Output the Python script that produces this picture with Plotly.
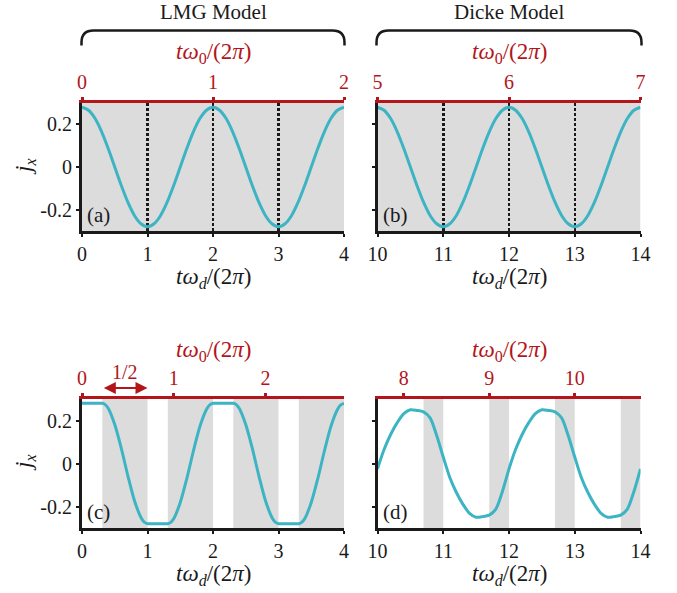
import plotly.graph_objects as go

W, H = 677, 593

# ---------------- data ----------------
x_a = [0.0, 0.1, 0.2, 0.3, 0.4, 0.5, 0.6, 0.7, 0.8, 0.9, 1.0, 1.1, 1.2, 1.3, 1.4, 1.5, 1.6, 1.7, 1.8, 1.9, 2.0,
       2.1, 2.2, 2.3, 2.4, 2.5, 2.6, 2.7, 2.8, 2.9, 3.0, 3.1, 3.2, 3.3, 3.4, 3.5, 3.6, 3.7, 3.8, 3.9, 4.0]
j_a = [0.28, 0.266, 0.227, 0.165, 0.087, 0.0, -0.087, -0.165, -0.227, -0.266, -0.28,
       -0.266, -0.227, -0.165, -0.087, 0.0, 0.087, 0.165, 0.227, 0.266, 0.28,
       0.266, 0.227, 0.165, 0.087, 0.0, -0.087, -0.165, -0.227, -0.266, -0.28,
       -0.266, -0.227, -0.165, -0.087, 0.0, 0.087, 0.165, 0.227, 0.266, 0.28]

x_b = [10.0, 10.1, 10.2, 10.3, 10.4, 10.5, 10.6, 10.7, 10.8, 10.9, 11.0, 11.1, 11.2, 11.3, 11.4, 11.5, 11.6, 11.7,
       11.8, 11.9, 12.0, 12.1, 12.2, 12.3, 12.4, 12.5, 12.6, 12.7, 12.8, 12.9, 13.0, 13.1, 13.2, 13.3, 13.4, 13.5,
       13.6, 13.7, 13.8, 13.9, 14.0]
j_b = [0.28, 0.266, 0.227, 0.165, 0.087, 0.0, -0.087, -0.165, -0.227, -0.266, -0.28,
       -0.266, -0.227, -0.165, -0.087, 0.0, 0.087, 0.165, 0.227, 0.266, 0.28,
       0.266, 0.227, 0.165, 0.087, 0.0, -0.087, -0.165, -0.227, -0.266, -0.28,
       -0.266, -0.227, -0.165, -0.087, 0.0, 0.087, 0.165, 0.227, 0.266, 0.28]

x_c = [0.0, 0.15, 0.31, 0.35, 0.4, 0.5, 0.6, 0.7, 0.8, 0.9, 0.95, 1.0, 1.15,
       1.31, 1.35, 1.4, 1.5, 1.6, 1.7, 1.8, 1.9, 1.95, 2.0, 2.15,
       2.31, 2.35, 2.4, 2.5, 2.6, 2.7, 2.8, 2.9, 2.95, 3.0, 3.15,
       3.31, 3.35, 3.4, 3.5, 3.6, 3.7, 3.8, 3.9, 3.95, 4.0]
j_c = [0.28, 0.28, 0.28, 0.275, 0.257, 0.181, 0.070, -0.057, -0.172, -0.251, -0.273, -0.28, -0.28,
       -0.28, -0.275, -0.257, -0.181, -0.070, 0.057, 0.172, 0.251, 0.273, 0.28, 0.28,
       0.28, 0.275, 0.257, 0.181, 0.070, -0.057, -0.172, -0.251, -0.273, -0.28, -0.28,
       -0.28, -0.275, -0.257, -0.181, -0.070, 0.057, 0.172, 0.251, 0.273, 0.28]

x_d = x_b
j_d = [-0.025, 0.065, 0.135, 0.19, 0.232, 0.25, 0.247, 0.24, 0.212, 0.13, 0.03,
       -0.065, -0.135, -0.19, -0.232, -0.25, -0.247, -0.24, -0.212, -0.13, -0.025,
       0.065, 0.135, 0.19, 0.232, 0.25, 0.247, 0.24, 0.212, 0.13, 0.03,
       -0.065, -0.135, -0.19, -0.232, -0.25, -0.247, -0.24, -0.212, -0.13, -0.025]

# shaded (driven) intervals
shade_a = [(0.0, 4.0)]
shade_b = [(10.0, 14.0)]
shade_c = [(0.31, 1.0), (1.31, 2.0), (2.31, 3.0), (3.31, 4.0)]
shade_d = [(10.7, 11.0), (11.7, 12.0), (12.7, 13.0), (13.7, 14.0)]

bottom_range_a = [0, 4]
bottom_range_b = [10, 14]
bottom_ticks_a = [0, 1, 2, 3, 4]
bottom_ticks_b = [10, 11, 12, 13, 14]

top_range_a = [0, 2]
top_range_b = [5, 7]
top_range_c = [0, 2.857]
top_range_d = [7.692, 10.769]
top_ticks_a = [0, 1, 2]
top_ticks_b = [5, 6, 7]
top_ticks_c = [0, 1, 2]
top_ticks_d = [8, 9, 10]

y_ticks = [-0.2, 0, 0.2]
y_ticklabels = ["-0.2", "0", "0.2"]
y_range = [-0.3, 0.3]

arrow_span = [0.31, 1.0]
arrow_label = "1/2"
panel_labels = ["(a)", "(b)", "(c)", "(d)"]
model_titles = ["LMG Model", "Dicke Model"]

# ---------------- style ----------------
TEAL = "#3db4c4"
RED = "#b3151b"
GRAY = "#dcdcdc"
BLACK = "#1a1a1a"
FONT = "Liberation Serif"
FS = 20


def px(xp):
    return xp / W


def py(yp):
    return 1 - yp / H


col_dom = [[px(82), px(344)], [px(377.5), px(640.5)]]
row_dom = [[py(231), py(103)], [py(528), py(399)]]
row_bottom_title = [278, 575]
row_top_title = [53, 351]
row_center = [167, 463]

xlab_bottom = "<i>tω<sub>d</sub></i>/(2<i>π</i>)"
xlab_top = "<i>tω</i><sub>0</sub>/(2<i>π</i>)"
ylab = "<i>j<sub>x</sub></i>"

fig = go.Figure()

panels = [
    dict(x=x_a, y=j_a, xa="x", ya="y", top="x5", col=0, row=0, rng=bottom_range_a, ticks=bottom_ticks_a,
         trng=top_range_a, tticks=top_ticks_a, shade=shade_a, grid=True, ylabels=True),
    dict(x=x_b, y=j_b, xa="x2", ya="y2", top="x6", col=1, row=0, rng=bottom_range_b, ticks=bottom_ticks_b,
         trng=top_range_b, tticks=top_ticks_b, shade=shade_b, grid=True, ylabels=False),
    dict(x=x_c, y=j_c, xa="x3", ya="y3", top="x7", col=0, row=1, rng=bottom_range_a, ticks=bottom_ticks_a,
         trng=top_range_c, tticks=top_ticks_c, shade=shade_c, grid=False, ylabels=True),
    dict(x=x_d, y=j_d, xa="x4", ya="y4", top="x8", col=1, row=1, rng=bottom_range_b, ticks=bottom_ticks_b,
         trng=top_range_d, tticks=top_ticks_d, shade=shade_d, grid=False, ylabels=False),
]

shapes = []
annotations = []
layout_axes = {}

for i, p in enumerate(panels):
    fig.add_trace(go.Scatter(x=p["x"], y=p["y"], xaxis=p["xa"], yaxis=p["ya"], mode="lines",
                             line=dict(color=TEAL, width=3, shape="spline", smoothing=0.8),
                             showlegend=False, hoverinfo="skip"))
    # dummy trace for the top axis
    fig.add_trace(go.Scatter(x=p["trng"], y=[0, 0], xaxis=p["top"], yaxis=p["ya"], mode="markers",
                             marker=dict(opacity=0), showlegend=False, hoverinfo="skip"))
    xn = p["xa"].replace("x", "xaxis")
    yn = p["ya"].replace("y", "yaxis")
    tn = p["top"].replace("x", "xaxis")
    layout_axes[xn] = dict(domain=col_dom[p["col"]], anchor=p["ya"], range=p["rng"], autorange=False,
                           tickvals=p["ticks"], ticktext=[str(t) for t in p["ticks"]], automargin=False,
                           showline=True, linecolor=BLACK, linewidth=3, ticks="outside", ticklen=3,
                           tickwidth=2, tickcolor=BLACK, zeroline=False,
                           showgrid=p["grid"], gridcolor=BLACK, gridwidth=2.5, griddash="2.5px,2.5px",
                           tickfont=dict(family=FONT, size=FS, color=BLACK))
    layout_axes[yn] = dict(domain=row_dom[p["row"]], anchor=p["xa"], range=y_range, autorange=False,
                           tickvals=y_ticks, ticktext=y_ticklabels, showticklabels=p["ylabels"], automargin=False,
                           showline=True, linecolor=BLACK, linewidth=3, ticks="outside", ticklen=3,
                           tickwidth=2, tickcolor=BLACK, zeroline=False, showgrid=False,
                           tickfont=dict(family=FONT, size=FS, color=BLACK))
    layout_axes[tn] = dict(overlaying=p["xa"], side="top", anchor=p["ya"], range=p["trng"], autorange=False,
                           tickvals=p["tticks"], ticktext=[str(t) for t in p["tticks"]], automargin=False,
                           showline=True, linecolor=RED, linewidth=3, ticks="outside", ticklen=3,
                           tickwidth=3, tickcolor=RED, zeroline=False, showgrid=False,
                           tickfont=dict(family=FONT, size=FS, color=RED))
    xc = (col_dom[p["col"]][0] + col_dom[p["col"]][1]) / 2
    # axis titles
    annotations.append(dict(text=xlab_bottom, xref="paper", yref="paper", x=xc, y=py(row_bottom_title[p["row"]]),
                            xanchor="center", yanchor="middle", showarrow=False,
                            font=dict(family=FONT, size=23, color=BLACK)))
    annotations.append(dict(text=xlab_top, xref="paper", yref="paper", x=xc, y=py(row_top_title[p["row"]]),
                            xanchor="center", yanchor="middle", showarrow=False,
                            font=dict(family=FONT, size=23, color=RED)))
    if p["ylabels"]:
        annotations.append(dict(text=ylab, xref="paper", yref="paper", x=px(25), y=py(row_center[p["row"]]),
                                xanchor="center", yanchor="middle", textangle=-90, showarrow=False,
                                font=dict(family=FONT, size=23, color=BLACK)))
    for (s0, s1) in p["shade"]:
        shapes.append(dict(type="rect", xref=p["xa"], yref=p["ya"] + " domain", x0=s0, x1=s1, y0=0, y1=1,
                           fillcolor=GRAY, line=dict(width=0), layer="below"))
    annotations.append(dict(text=panel_labels[i], xref=p["xa"] + " domain", yref=p["ya"] + " domain",
                            x=0, y=0, xanchor="left", yanchor="bottom", xshift=3, yshift=2, showarrow=False,
                            font=dict(family=FONT, size=21, color=BLACK)))

# braces and model titles
for k, (x0p, x1p) in enumerate([(81.5, 344.5), (376.5, 641.5)]):
    yt, ye, r = 30.5, 45.5, 12
    path = (f"M {px(x0p)},{py(ye)} L {px(x0p)},{py(yt + r)} Q {px(x0p)},{py(yt)} {px(x0p + r)},{py(yt)} "
            f"L {px(x1p - r)},{py(yt)} Q {px(x1p)},{py(yt)} {px(x1p)},{py(yt + r)} L {px(x1p)},{py(ye)}")
    shapes.append(dict(type="path", xref="paper", yref="paper", path=path,
                       line=dict(color=BLACK, width=2.5)))
    annotations.append(dict(text=model_titles[k], xref="paper", yref="paper",
                            x=(col_dom[k][0] + col_dom[k][1]) / 2, y=py(12.5), xanchor="center", yanchor="middle",
                            showarrow=False, font=dict(family=FONT, size=21, color=BLACK)))

# 1/2 arrow in panel (c)
annotations.append(dict(text="", x=arrow_span[1], y=1.085, ax=arrow_span[0], ay=1.085,
                        xref="x3", yref="y3 domain", axref="x3", ayref="y3 domain", showarrow=True,
                        arrowside="end+start", arrowhead=2, arrowsize=1.2, arrowwidth=2, arrowcolor=RED,
                        standoff=0, startstandoff=0))
annotations.append(dict(text=arrow_label, x=(arrow_span[0] + arrow_span[1]) / 2, y=1.21, xref="x3",
                        yref="y3 domain", showarrow=False, xanchor="center", yanchor="middle",
                        font=dict(family=FONT, size=FS, color=RED)))

fig.update_layout(width=W, height=H, margin=dict(l=0, r=0, t=0, b=0), autosize=False,
                  paper_bgcolor="white", plot_bgcolor="white", showlegend=False, hovermode=False,
                  shapes=shapes, annotations=annotations, **layout_axes)

fig.write_html("out.html", config={"displayModeBar": False, "staticPlot": True},
               post_script="document.body.style.margin='0px';")
